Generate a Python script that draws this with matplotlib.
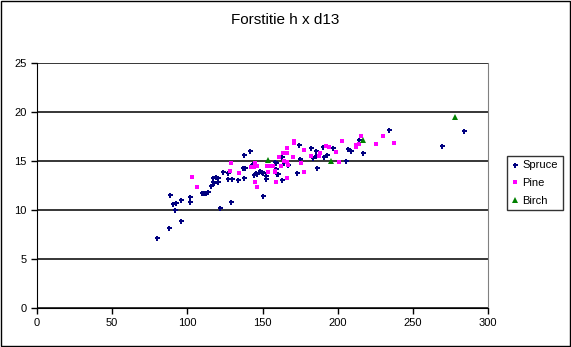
import matplotlib
matplotlib.use("Agg")
import matplotlib.pyplot as plt
from matplotlib.patches import Rectangle

plt.rcParams["font.family"] = ["Liberation Sans", "DejaVu Sans"]

# diameter at 1.3 m (d13) vs tree height (h)
spruce_d = [79.8, 87.6, 88.5, 90.7, 91.6, 92.5, 96.0, 96.0, 101.8, 101.8,
            109.6, 111.0, 112.5, 114.0, 115.8, 116.9, 117.3, 118.0, 119.1, 120.6,
            120.6, 121.5, 124.0, 126.8, 127.3, 129.5, 128.9, 133.7, 136.9, 137.5,
            137.7, 138.4, 141.5, 142.8, 144.4, 144.4, 145.7, 146.6, 148.6, 149.5,
            150.2, 150.6, 152.2, 152.2, 158.4, 159.0, 159.0, 159.9, 160.5, 162.8,
            163.0, 164.3, 167.0, 172.8, 174.5, 175.0, 182.1, 183.8, 185.6, 185.8,
            186.1, 190.5, 191.2, 192.7, 196.6, 205.8, 207.1, 208.9, 214.0, 216.7,
            234.2, 269.3, 283.9]
spruce_h = [7.14, 8.2, 11.5, 10.6, 10.0, 10.75, 11.0, 8.9, 11.36, 10.85,
            11.7, 11.75, 11.7, 11.8, 12.45, 12.9, 13.23, 12.72, 13.33, 13.23,
            12.9, 10.2, 13.9, 13.8, 13.2, 13.2, 10.85, 13.06, 14.3, 15.6,
            13.27, 14.25, 16.05, 14.6, 14.76, 13.57, 13.8, 13.67, 14.0, 13.9,
            11.4, 13.8, 13.5, 13.2, 14.9, 14.76, 14.15, 13.7, 13.7, 13.1,
            15.4, 14.76, 14.6, 13.8, 16.6, 15.17, 16.36, 15.3, 15.5, 16.05,
            14.25, 16.4, 15.45, 15.6, 16.3, 15.0, 16.2, 16.0, 17.1, 15.8,
            18.16, 16.56, 18.06]

pine_d = [103.3, 106.6, 128.4, 129.3, 134.6, 142.4, 144.4, 145.0, 146.2, 145.2,
          146.6, 152.8, 153.9, 155.0, 156.8, 158.4, 158.6, 158.8, 160.8, 162.1,
          163.5, 164.3, 166.1, 166.5, 166.5, 166.3, 167.2, 170.5, 171.2, 171.2,
          175.4, 177.6, 177.9, 182.1, 187.8, 188.5, 192.5, 194.5, 199.1, 201.1,
          202.7, 212.5, 212.5, 214.2, 215.8, 225.5, 230.4, 237.7]
pine_h = [13.4, 12.3, 14.0, 14.76, 13.75, 14.35, 14.35, 14.76, 14.5, 12.83,
          12.3, 14.5, 13.9, 14.5, 14.5, 13.9, 13.95, 12.86, 15.45, 14.5,
          15.8, 15.03, 14.87, 16.36, 15.8, 13.3, 14.55, 15.4, 17.07, 16.87,
          14.76, 16.1, 13.85, 15.5, 15.5, 15.8, 16.5, 16.4, 15.95, 14.87,
          17.0, 16.6, 16.4, 16.7, 17.6, 16.7, 17.55, 16.8]

birch_d = [153.9, 195.6, 216.9, 277.9]
birch_h = [15.1, 15.0, 17.1, 19.5]

x_ticks = [0, 50, 100, 150, 200, 250, 300]
y_ticks = [0, 5, 10, 15, 20, 25]

fig = plt.figure(figsize=(5.71, 3.47), dpi=100)
ax = fig.add_axes([37 / 571, 1 - 308 / 347, 451 / 571, 245 / 347])

ax.plot(spruce_d, spruce_h, linestyle="none", marker="P", ms=3.6,
        color="#000080", mew=0, label="Spruce", zorder=3)
ax.plot(pine_d, pine_h, linestyle="none", marker="s", ms=3.2,
        color="#FF00FF", mew=0, label="Pine", zorder=3)
ax.plot(birch_d, birch_h, linestyle="none", marker="^", ms=4.0,
        color="#008000", mew=0, label="Birch", zorder=3)

ax.set_xlim(0, 300)
ax.set_ylim(0, 25)
ax.set_xticks(x_ticks)
ax.set_yticks(y_ticks)
ax.tick_params(labelsize=8, length=4, width=1, direction="out", color="black")
ax.yaxis.grid(True, color="black", linewidth=1.1)
ax.set_axisbelow(True)
for side in ("left", "bottom"):
    ax.spines[side].set_color("black")
ax.spines["right"].set_color("#808080")
ax.spines["top"].set_visible(False)

fig.text(0.5, 0.942, "Forstitie h x d13", ha="center", va="center", fontsize=11)

leg = ax.legend(loc="upper left", bbox_to_anchor=(507 / 571, 1 - 156 / 347),
                bbox_transform=fig.transFigure, fontsize=8, frameon=True,
                fancybox=False, edgecolor="black", borderpad=0.4,
                handlelength=0.6, handletextpad=0.4, labelspacing=0.7,
                borderaxespad=0)
leg.get_frame().set_linewidth(1)

fig.patches.append(Rectangle((0.001, 0.002), 0.997, 0.995, transform=fig.transFigure,
                             fill=False, edgecolor="black", linewidth=1))

fig.savefig("out.png", dpi=100)
